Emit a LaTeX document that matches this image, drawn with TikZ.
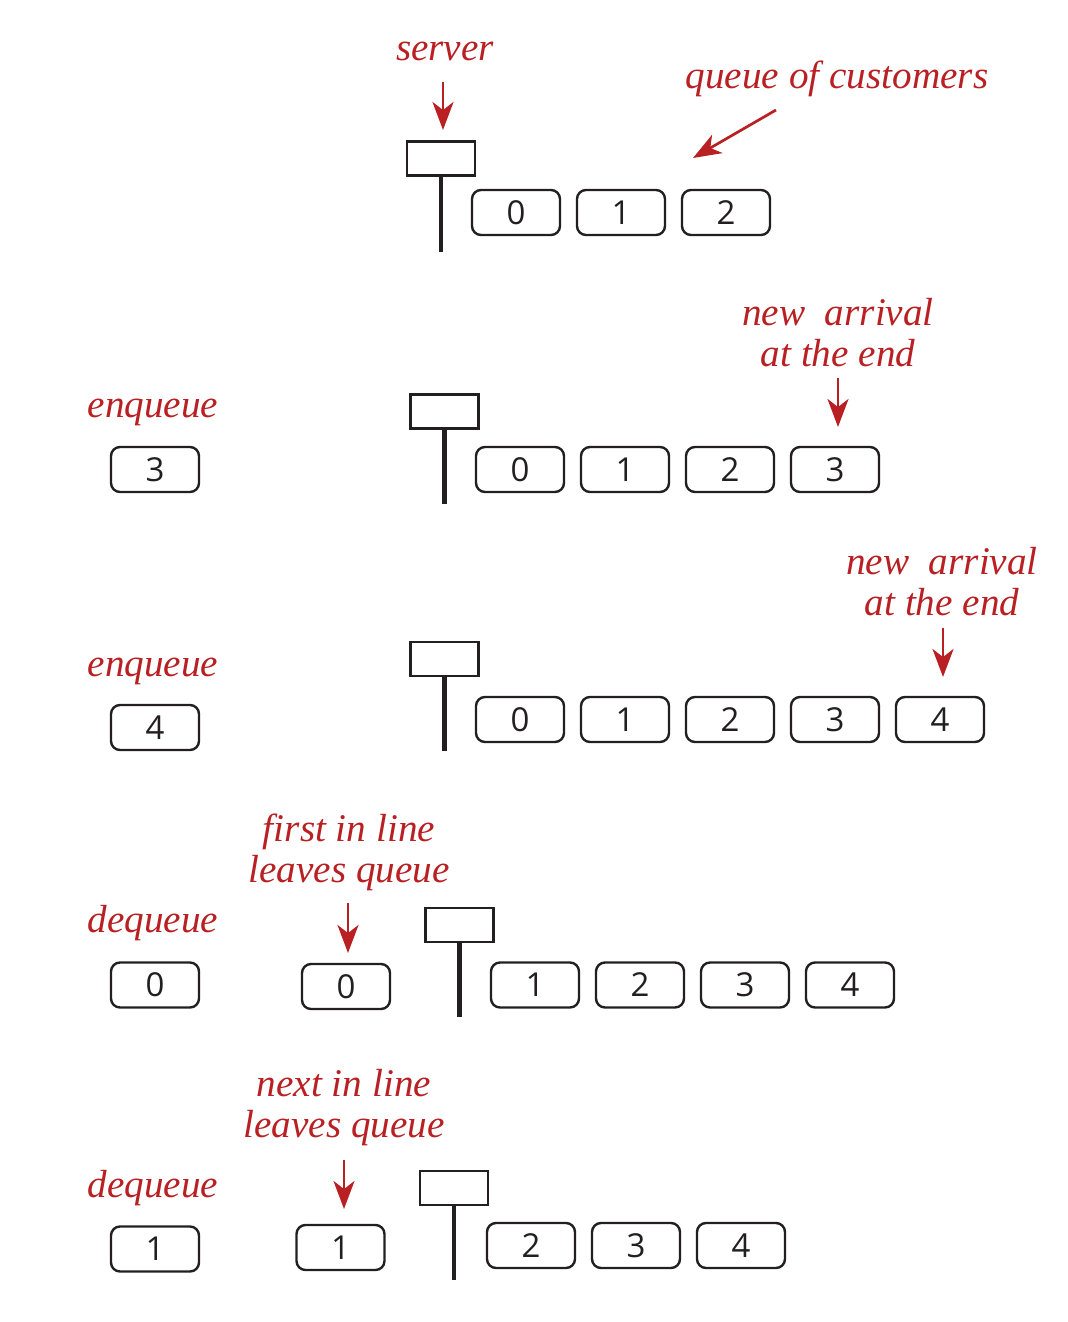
\documentclass[tikz,border=0pt]{standalone}
\usepackage{fontspec}
\newfontfamily\digitfont{Open Sans}
\newfontfamily\labelfont{Liberation Serif}
\usetikzlibrary{arrows.meta}
\definecolor{qred}{RGB}{185,32,35}
\definecolor{qink}{RGB}{35,31,32}
\begin{document}
\begin{tikzpicture}[x=0.5pt,y=-0.5pt,
  cust/.style={draw=qink, line width=1.2pt, rounded corners=4.5pt, minimum width=44pt, minimum height=22.5pt, inner sep=0pt, font=\digitfont\fontsize{16.5}{18}\selectfont, text=qink},
  srv/.style={draw=qink, line width=1.4pt, minimum width=34pt, minimum height=17pt, inner sep=0pt},
  pole/.style={draw=qink, line width=2.2pt},
  lab/.style={text=qred, font=\labelfont\itshape\fontsize{19.6}{20.5}\selectfont, align=center, inner sep=0pt},
  redarrow/.style={draw=qred, line width=1.35pt, -{Stealth[length=14pt,width=10.5pt,inset=4pt]}}
]
\useasboundingbox (0,0) rectangle (1068,1322);

% ---------- row 1 ----------
\node[srv] (s1) at (441,158.5) {};
\draw[pole] (s1.south) -- ++(0,75) coordinate (p1);
\node[cust] (r1a) at (516,212.5) {0};
\node[cust] (r1b) at (621,212.5) {1};
\node[cust] (r1c) at (726,212.5) {2};
\node[lab,anchor=base] (lserver) at (445,61) {server};
\node[lab,anchor=base] (lqueue) at (837,89) {queue of customers};
\coordinate (a1s) at (443,82);
\draw[redarrow] (a1s) -- (443,130);
\coordinate (a2s) at (776,110);
\coordinate (a2e) at (693,158);
\draw[redarrow] (a2s) -- (a2e);

% ---------- row 2 ----------
\node[lab,anchor=base] (lenq1) at (153,417) {enqueue};
\node[cust] (e1) at (155,469.5) {3};
\node[srv] (s2) at (444.5,411.5) {};
\draw[pole] (s2.south) -- ++(0,74);
\node[cust] (r2a) at (520,469.5) {0};
\node[cust] (r2b) at (625,469.5) {1};
\node[cust] (r2c) at (730,469.5) {2};
\node[cust] (r2d) at (835,469.5) {3};
\node[lab,anchor=base] (lnew1) at (838,366) {new\ \ arrival\\at the end};
\coordinate (a3s) at (838,378);
\coordinate (a3e) at (838,427);
\draw[redarrow] (a3s) -- (a3e);

% ---------- row 3 ----------
\node[lab,anchor=base] (lenq2) at (153,676) {enqueue};
\node[cust] (e2) at (155,727.5) {4};
\node[srv] (s3) at (444.5,659) {};
\draw[pole] (s3.south) -- ++(0,74);
\node[cust] (r3a) at (520,719.5) {0};
\node[cust] (r3b) at (625,719.5) {1};
\node[cust] (r3c) at (730,719.5) {2};
\node[cust] (r3d) at (835,719.5) {3};
\node[cust] (r3e) at (940,719.5) {4};
\node[lab,anchor=base] (lnew2) at (942,615) {new\ \ arrival\\at the end};
\coordinate (a4s) at (943,628);
\coordinate (a4e) at (943,677);
\draw[redarrow] (a4s) -- (a4e);

% ---------- row 4 ----------
\node[lab,anchor=base] (ldeq1) at (153,932) {dequeue};
\node[cust] (d1) at (155,985) {0};
\node[cust] (o1) at (346,986.5) {0};
\node[srv] (s4) at (459.5,925) {};
\draw[pole] (s4.south) -- ++(0,74);
\node[cust] (r4a) at (535,985) {1};
\node[cust] (r4b) at (640,985) {2};
\node[cust] (r4c) at (745,985) {3};
\node[cust] (r4d) at (850,985) {4};
\node[lab,anchor=base] (lfirst) at (349,882) {first in line\\leaves queue};
\coordinate (a5s) at (348,903);
\coordinate (a5e) at (348,953);
\draw[redarrow] (a5s) -- (a5e);

% ---------- row 5 ----------
\node[lab,anchor=base] (ldeq2) at (153,1197) {dequeue};
\node[cust] (d2) at (155,1249) {1};
\node[cust] (o2) at (340.5,1247.5) {1};
\node[srv] (s5) at (454,1188) {};
\draw[pole] (s5.south) -- ++(0,74);
\node[cust] (r5a) at (531,1245.5) {2};
\node[cust] (r5b) at (636,1245.5) {3};
\node[cust] (r5c) at (741,1245.5) {4};
\node[lab,anchor=base] (lnext) at (344,1137) {next in line\\leaves queue};
\coordinate (a6s) at (344,1160);
\coordinate (a6e) at (344,1209);
\draw[redarrow] (a6s) -- (a6e);
\end{tikzpicture}
\end{document}
